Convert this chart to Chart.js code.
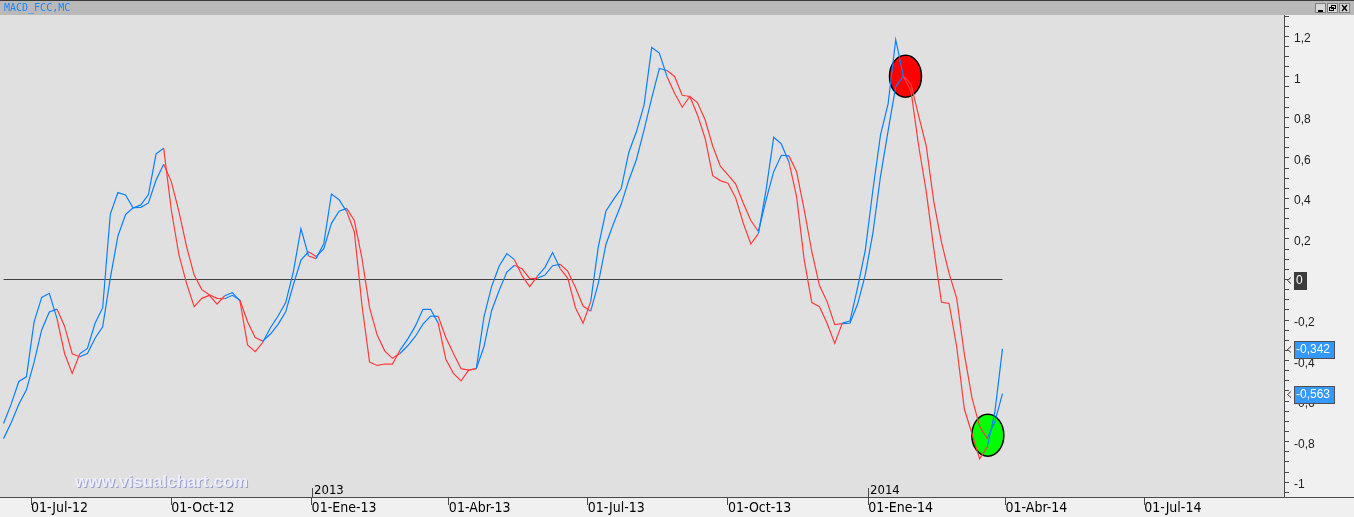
<!DOCTYPE html>
<html><head><meta charset="utf-8">
<script src="https://cdn.jsdelivr.net/npm/chart.js@4.4.1/dist/chart.umd.min.js"></script>
<style>html,body{margin:0;padding:0;background:#f0f0f0;overflow:hidden}canvas{display:block}</style>
</head><body><canvas id="c" width="1354" height="517"></canvas>
<script>
// x positions: days since 01-Jul-2012
const days = [-18,-13,-8,-3,2,7,12,17,22,27,32,37,42,47,52,57,62,67,72,77,82,87,92,97,102,107,112,117,122,127,132,137,142,147,152,157,162,167,172,177,182,187,192,197,202,207,212,217,222,227,232,237,242,247,252,257,262,267,272,277,282,287,292,297,302,307,312,317,322,327,332,337,342,347,352,357,362,367,372,377,382,387,392,397,402,407,412,417,422,427,432,437,442,447,452,457,462,467,472,477,482,487,492,497,502,507,512,517,522,527,532,537,542,547,552,557,562,567,572,577,582,587,592,597,602,607,612,617,622,627,632,637];
const macdValues = [-0.71,-0.615,-0.503,-0.48,-0.21,-0.088,-0.068,-0.192,-0.365,-0.463,-0.366,-0.34,-0.216,-0.139,0.323,0.429,0.417,0.353,0.368,0.419,0.62,0.648,0.343,0.121,-0.019,-0.134,-0.093,-0.078,-0.121,-0.08,-0.065,-0.105,-0.323,-0.356,-0.31,-0.238,-0.18,-0.114,0.037,0.251,0.116,0.103,0.178,0.422,0.394,0.335,0.236,-0.126,-0.407,-0.424,-0.417,-0.417,-0.348,-0.294,-0.23,-0.147,-0.147,-0.215,-0.393,-0.463,-0.5,-0.447,-0.44,-0.184,-0.035,0.067,0.128,0.098,0.019,-0.035,0.016,0.06,0.133,0.054,0.006,-0.139,-0.215,-0.109,0.162,0.338,0.395,0.449,0.628,0.73,0.862,1.145,1.117,1.002,0.919,0.85,0.903,0.812,0.697,0.512,0.488,0.475,0.404,0.279,0.175,0.228,0.442,0.702,0.669,0.579,0.409,0.096,-0.114,-0.134,-0.216,-0.315,-0.215,-0.205,-0.04,0.142,0.439,0.712,0.867,1.183,1.003,0.931,0.661,0.435,0.149,-0.112,-0.118,-0.333,-0.639,-0.761,-0.885,-0.827,-0.654,-0.342];
const signalValues = [-0.785,-0.707,-0.615,-0.544,-0.409,-0.249,-0.16,-0.146,-0.23,-0.366,-0.381,-0.365,-0.29,-0.233,0.007,0.215,0.32,0.355,0.356,0.378,0.491,0.569,0.483,0.335,0.162,0.022,-0.05,-0.075,-0.093,-0.095,-0.078,-0.101,-0.208,-0.286,-0.304,-0.269,-0.221,-0.159,-0.027,0.096,0.137,0.113,0.152,0.277,0.337,0.351,0.291,0.105,-0.139,-0.274,-0.353,-0.389,-0.365,-0.327,-0.281,-0.22,-0.18,-0.182,-0.286,-0.365,-0.44,-0.447,-0.439,-0.332,-0.154,-0.053,0.037,0.07,0.053,0.004,0.006,0.022,0.068,0.075,0.04,-0.039,-0.131,-0.156,-0.019,0.174,0.276,0.371,0.49,0.592,0.738,0.895,1.041,1.031,1.002,0.909,0.903,0.873,0.788,0.659,0.559,0.516,0.472,0.378,0.291,0.237,0.393,0.532,0.613,0.61,0.532,0.343,0.137,-0.03,-0.109,-0.223,-0.218,-0.216,-0.121,0.022,0.228,0.508,0.733,0.952,1.003,0.964,0.809,0.659,0.383,0.184,0.03,-0.093,-0.368,-0.584,-0.724,-0.784,-0.702,-0.563];
const xTickDays = [0,92,184,274,365,457,549,639,730];
const xTickLabels = ['01-Jul-12','01-Oct-12','01-Ene-13','01-Abr-13','01-Jul-13','01-Oct-13','01-Ene-14','01-Abr-14','01-Jul-14'];
const yearDays = [184,549];
const yearLabels = ['2013','2014'];
const markerDays = [573.4,627.4];
const markerValues = [1.003,-0.768];
const markerColors = ['#ff0000','#00ff00'];
const badgeValues = [0,-0.342,-0.563];
const badgeLabels = ['0','-0,342','-0,563'];
const badgeColors = ['#3c3c3c','#3399ff','#3399ff'];

const BLUE = '#0a80ff', RED = '#ff3c3c';
const segColor = ctx => {
  const i0 = ctx.p0DataIndex, i1 = ctx.p1DataIndex;
  return (macdValues[i0] + macdValues[i1]) >= (signalValues[i0] + signalValues[i1]) ? BLUE : RED;
};
const toXY = vals => vals.map((v, i) => ({x: days[i], y: v}));

const decor = {
  id: 'decor',
  beforeDraw(chart) {
    const c = chart.ctx, a = chart.chartArea, W = chart.width;
    c.save();
    c.fillStyle = '#f0f0f0'; c.fillRect(0, 0, W, chart.height);
    c.fillStyle = '#e0e0e0'; c.fillRect(a.left, a.top, a.right - a.left, a.bottom - a.top);
    c.fillStyle = '#b9b9b9'; c.fillRect(0, 0, W, a.top);
    c.fillStyle = '#3a3a3a'; c.fillRect(0, 0, W, 1);
    c.font = '10px "DejaVu Sans Mono", monospace';
    c.fillStyle = '#1a86ff'; c.textBaseline = 'alphabetic'; c.textAlign = 'left';
    c.fillText('MACD_FCC,MC', 4, 11);
    // window buttons
    const bx = [1315, 1327, 1339];
    bx.forEach((x, k) => {
      c.fillStyle = '#d8d8d8'; c.fillRect(x, 3, 11, 10);
      c.strokeStyle = '#808080'; c.lineWidth = 1; c.strokeRect(x + 0.5, 3.5, 10, 9);
      c.strokeStyle = '#000'; c.fillStyle = '#000';
      if (k === 0) { c.fillRect(x + 3, 10, 5, 2); }
      else if (k === 1) { c.strokeRect(x + 4.5, 5.5, 4, 3); c.strokeRect(x + 2.5, 7.5, 4, 3); }
      else { c.beginPath(); c.moveTo(x + 3, 5); c.lineTo(x + 8, 11); c.moveTo(x + 8, 5); c.lineTo(x + 3, 11); c.lineWidth = 1.5; c.stroke(); }
    });
    c.restore();
  },
  beforeDatasetsDraw(chart) {
    const c = chart.ctx, xs = chart.scales.x, ys = chart.scales.y;
    c.save();
    markerDays.forEach((d, k) => {
      const x = xs.getPixelForValue(d), y = ys.getPixelForValue(markerValues[k]);
      c.beginPath(); c.ellipse(x, y, 16, 21, 0, 0, Math.PI * 2);
      c.fillStyle = markerColors[k]; c.fill();
      c.lineWidth = 1.5; c.strokeStyle = '#000'; c.stroke();
    });
    c.restore();
  },
  afterDraw(chart) {
    const c = chart.ctx, a = chart.chartArea, xs = chart.scales.x, ys = chart.scales.y;
    c.save();
    // bottom axis line across full width
    c.fillStyle = '#4a4a4a'; c.fillRect(0, a.bottom, chart.width, 1);
    // year markers
    c.font = '13px "Liberation Sans Narrow", "DejaVu Sans Condensed", sans-serif';
    c.textAlign = 'left'; c.textBaseline = 'alphabetic';
    yearDays.forEach((d, k) => {
      const x = Math.round(xs.getPixelForValue(d));
      c.fillStyle = '#4a4a4a'; c.fillRect(x, a.bottom - 9, 1, 9);
      c.fillStyle = '#000'; c.fillText(yearLabels[k], x + 2, a.bottom - 3);
    });
    // badges on the right axis
    c.font = '12px "Liberation Sans", Arial, sans-serif';
    c.textBaseline = 'middle';
    badgeValues.forEach((v, k) => {
      const y = Math.round(ys.getPixelForValue(v));
      const w = k === 0 ? 13 : 41;
      c.fillStyle = badgeColors[k]; c.fillRect(a.right + 10, y - 8, w, 18);
      if (k > 0) { c.strokeStyle = '#505050'; c.lineWidth = 1; c.strokeRect(a.right + 10.5, y - 7.5, w - 1, 17); }
      c.fillStyle = '#fff'; c.fillText(badgeLabels[k], a.right + 12, y + 1);
      c.strokeStyle = '#404040'; c.lineWidth = 1;
      c.beginPath(); c.moveTo(a.right + 7, y - 2.5); c.lineTo(a.right + 3.5, y + 0.5); c.lineTo(a.right + 7, y + 3.5); c.stroke();
    });
    // watermark
    c.font = 'bold 17px "Liberation Sans", Arial, sans-serif';
    c.textBaseline = 'alphabetic'; c.textAlign = 'left';
    c.fillStyle = '#9aa2cc'; c.fillText('www.visualchart.com', 76, 488);
    c.fillStyle = '#eeeefc'; c.fillText('www.visualchart.com', 75, 487);
    c.restore();
  }
};

new Chart(document.getElementById('c'), {
  type: 'line',
  data: {
    datasets: [
      {data: toXY(macdValues), borderWidth: 1.2, pointRadius: 0, tension: 0, borderColor: BLUE, segment: {borderColor: segColor}},
      {data: toXY(signalValues), borderWidth: 1.2, pointRadius: 0, tension: 0, borderColor: BLUE, segment: {borderColor: segColor}},
      {data: [{x: days[0], y: 0}, {x: days[days.length - 1], y: 0}], borderWidth: 1, pointRadius: 0, borderColor: '#404040'}
    ]
  },
  options: {
    responsive: false, animation: false, devicePixelRatio: 1,
    layout: {padding: {top: 15, left: 0, right: 0, bottom: 0}},
    plugins: {legend: {display: false}, tooltip: {enabled: false}},
    scales: {
      x: {
        type: 'linear', min: -20.33, max: 821.6,
        afterFit: s => { s.height = 20; },
        afterBuildTicks: s => { s.ticks = xTickDays.map(v => ({value: v})); },
        grid: {drawOnChartArea: false, tickLength: 8, color: '#4a4a4a'},
        border: {display: true, color: '#4a4a4a'},
        ticks: {
          autoSkip: false, maxRotation: 0, align: 'start', padding: -5,
          color: '#000', font: {family: '"Liberation Sans Narrow", "DejaVu Sans Condensed", sans-serif', size: 14},
          callback: v => { const k = xTickDays.indexOf(v); return k >= 0 ? xTickLabels[k] : ''; }
        }
      },
      y: {
        type: 'linear', position: 'right', min: -1.073, max: 1.305,
        afterFit: s => { s.width = 70; },
        grid: {drawOnChartArea: false, tickLength: 5, color: '#4a4a4a'},
        border: {display: true, color: '#4a4a4a'},
        ticks: {
          stepSize: 0.05, includeBounds: false, autoSkip: false, padding: 5, crossAlign: 'near',
          color: '#202020', font: {family: '"Liberation Sans", Arial, sans-serif', size: 12, lineHeight: 0.45},
          callback: v => { const r = Math.round(v * 20); if (r % 4 !== 0 || r === 0) return ''; return ['', String(r / 20).replace('.', ',')]; }
        }
      }
    }
  },
  plugins: [decor]
});
</script>
</body></html>
